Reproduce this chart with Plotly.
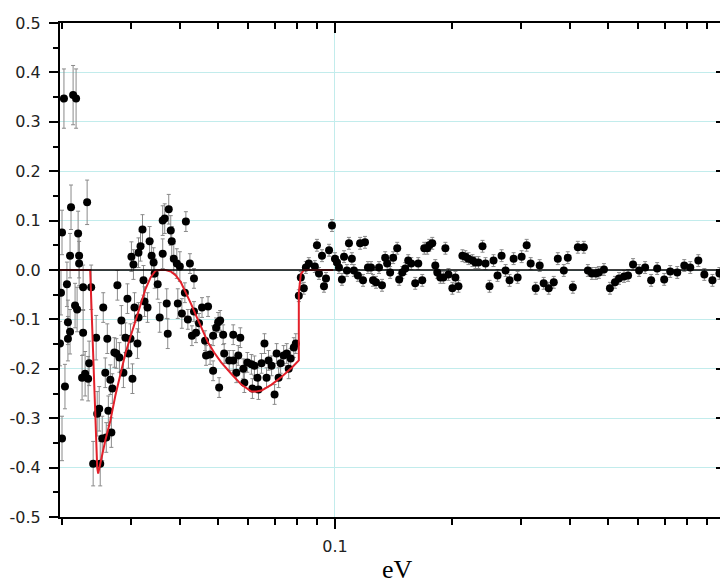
import plotly.graph_objects as go

# ---- measured points (energy in eV, value, error) ----
ev = [
0.01972, 0.01984, 0.01996, 0.01996, 0.02019, 0.02031, 0.02055, 0.02067, 0.02067, 0.02093,
0.02093, 0.02105, 0.02131, 0.02156, 0.02169, 0.02182, 0.02195, 0.02208, 0.02208, 0.02247,
0.02261, 0.02261, 0.02288, 0.02315, 0.02329, 0.02343, 0.02371, 0.02399, 0.02442, 0.02457,
0.02486, 0.02501, 0.02531, 0.02546, 0.02592, 0.02577, 0.02608, 0.02624, 0.02655, 0.02671,
0.02687, 0.02719, 0.02751, 0.02768, 0.02801, 0.02834, 0.02868, 0.02902, 0.02937, 0.02954,
0.02990, 0.03007, 0.03025, 0.03043, 0.03062, 0.03116, 0.03135, 0.03135, 0.03173, 0.03210,
0.03229, 0.03249, 0.03307, 0.03348, 0.03388, 0.03428, 0.03449, 0.03511, 0.03553, 0.03617,
0.03617, 0.03660, 0.03704, 0.03726, 0.03748, 0.03793, 0.03815, 0.03861, 0.03931, 0.03954,
0.04002, 0.04050, 0.04147, 0.04122, 0.04196, 0.04247, 0.04298, 0.04350, 0.04350, 0.04402,
0.04481, 0.04562, 0.04644, 0.04672, 0.04727, 0.04784, 0.04870, 0.04870, 0.04958, 0.05017,
0.05047, 0.05077, 0.05168, 0.05199, 0.05356, 0.05485, 0.05485, 0.05585, 0.05651, 0.05719,
0.05821, 0.05856, 0.05962, 0.06106, 0.06142, 0.06216, 0.06328, 0.06366, 0.06481, 0.06596,
0.06677, 0.06756, 0.06878, 0.07001, 0.07086, 0.07170, 0.07255, 0.07386, 0.07521, 0.07610,
0.07700, 0.07843, 0.07935, 0.08078, 0.08174, 0.08320, 0.08420, 0.08571, 0.08880, 0.08991,
0.09098, 0.09262, 0.09372, 0.09484, 0.09657, 0.09825, 0.1000, 0.1012, 0.1024, 0.1042,
0.1055, 0.1073, 0.1086, 0.1105, 0.1118, 0.1145, 0.1160, 0.1180, 0.1194, 0.1215,
0.1237, 0.1252, 0.1274, 0.1297, 0.1320, 0.1345, 0.1361, 0.1385, 0.1410, 0.1444,
0.1461, 0.1488, 0.1514, 0.1541, 0.1569, 0.1606, 0.1635, 0.1674, 0.1694, 0.1724,
0.1745, 0.1776, 0.1808, 0.1830, 0.1863, 0.1896, 0.1919, 0.1954, 0.2000, 0.2036,
0.2073, 0.2122, 0.2160, 0.2199, 0.2252, 0.2292, 0.2333, 0.2389, 0.2432, 0.2490,
0.2550, 0.2611, 0.2674, 0.2738, 0.2803, 0.2871, 0.2940, 0.3010, 0.3101, 0.3175,
0.3271, 0.3349, 0.3429, 0.3533, 0.3639, 0.3727, 0.3861, 0.3953, 0.4073, 0.4195,
0.4346, 0.4451, 0.4558, 0.4667, 0.4750, 0.4894, 0.5070, 0.5223, 0.5349, 0.5510,
0.5642, 0.5811, 0.6022, 0.6240, 0.6466, 0.6700, 0.6984, 0.7236, 0.7543, 0.7863,
0.8147, 0.8543, 0.8852, 0.9284, 0.9676, 0.9990]

values = [
-0.149, -0.046, 0.076, -0.341, 0.347, -0.236, -0.029, -0.106, -0.139, 0.029,
-0.125, 0.127, 0.354, -0.072, 0.347, -0.080, 0.074, 0.029, 0.013, -0.218,
-0.035, -0.127, -0.210, 0.137, -0.220, -0.189, -0.035, -0.392, -0.137, -0.291,
-0.281, -0.392, -0.341, -0.076, -0.339, -0.208, -0.139, -0.285, -0.222, -0.329,
-0.240, -0.167, -0.169, -0.031, -0.177, -0.102, -0.208, -0.137, -0.058, -0.169,
-0.139, 0.027, -0.220, 0.011, -0.076, -0.149, 0.035, -0.096, 0.048, 0.082,
-0.021, -0.064, -0.076, 0.058, 0.029, 0.015, -0.007, -0.029, -0.096, 0.033,
0.100, 0.104, -0.068, -0.129, 0.123, 0.080, 0.058, 0.023, 0.013, -0.068,
0.007, -0.088, 0.098, -0.046, -0.100, 0.013, -0.133, -0.017, -0.084, -0.127,
-0.108, -0.076, -0.143, -0.173, -0.074, -0.171, -0.133, -0.204, -0.117, -0.106,
-0.238, -0.102, -0.131, -0.169, -0.183, -0.183, -0.131, -0.208, -0.173, -0.137,
-0.200, -0.228, -0.187, -0.191, -0.240, -0.194, -0.218, -0.242, -0.189, -0.149,
-0.218, -0.183, -0.194, -0.252, -0.169, -0.218, -0.189, -0.173, -0.169, -0.200,
-0.179, -0.157, -0.149, -0.052, -0.015, -0.037, 0.005, 0.013, 0.007, 0.050,
-0.007, 0.029, -0.033, -0.017, 0.040, 0.090, 0.023, 0.015, 0.005, -0.019,
0.027, -0.001, 0.054, 0.023, -0.001, -0.011, 0.054, -0.021, 0.056, 0.005,
0.005, -0.021, -0.025, 0.005, -0.031, 0.025, 0.013, -0.005, 0.025, 0.044,
-0.019, -0.005, 0.003, 0.019, 0.013, -0.027, 0.013, -0.021, 0.044, 0.044,
0.050, 0.054, 0.009, -0.005, -0.015, -0.015, 0.044, -0.009, -0.037, -0.015,
-0.033, 0.029, 0.027, 0.023, 0.019, 0.015, 0.015, 0.048, 0.013, -0.033,
0.019, -0.011, 0.029, -0.001, -0.021, 0.023, -0.015, 0.027, 0.050, 0.013,
-0.037, 0.009, -0.027, -0.037, -0.025, 0.023, -0.001, 0.025, -0.035, 0.046,
0.046, -0.001, -0.007, -0.007, -0.005, 0.001, -0.037, -0.025, -0.017, -0.013,
-0.011, 0.011, -0.001, 0.005, -0.021, 0.003, -0.019, -0.003, -0.005, 0.009,
0.005, 0.019, -0.009, -0.021, -0.007, -0.005]

errors = [
0.045, 0.045, 0.045, 0.045, 0.060, 0.045, 0.045, 0.045, 0.045, 0.045,
0.045, 0.045, 0.060, 0.045, 0.060, 0.045, 0.045, 0.045, 0.045, 0.045,
0.045, 0.045, 0.045, 0.045, 0.045, 0.045, 0.045, 0.045, 0.045, 0.045,
0.045, 0.045, 0.045, 0.030, 0.030, 0.030, 0.030, 0.030, 0.030, 0.030,
0.030, 0.030, 0.030, 0.030, 0.030, 0.030, 0.030, 0.030, 0.030, 0.030,
0.030, 0.030, 0.030, 0.030, 0.030, 0.030, 0.030, 0.030, 0.030, 0.030,
0.030, 0.030, 0.030, 0.030, 0.030, 0.030, 0.030, 0.030, 0.030, 0.030,
0.030, 0.030, 0.030, 0.030, 0.030, 0.030, 0.030, 0.030, 0.030, 0.030,
0.030, 0.030, 0.020, 0.020, 0.020, 0.020, 0.020, 0.020, 0.020, 0.020,
0.020, 0.020, 0.020, 0.020, 0.020, 0.020, 0.020, 0.020, 0.020, 0.020,
0.020, 0.020, 0.020, 0.020, 0.020, 0.020, 0.020, 0.020, 0.020, 0.020,
0.020, 0.020, 0.020, 0.020, 0.020, 0.020, 0.020, 0.020, 0.020, 0.020,
0.020, 0.020, 0.020, 0.020, 0.020, 0.020, 0.020, 0.020, 0.020, 0.020,
0.020, 0.020, 0.020, 0.012, 0.012, 0.012, 0.012, 0.012, 0.012, 0.012,
0.012, 0.012, 0.012, 0.012, 0.012, 0.012, 0.012, 0.012, 0.012, 0.012,
0.012, 0.012, 0.012, 0.012, 0.012, 0.012, 0.012, 0.012, 0.012, 0.012,
0.012, 0.012, 0.012, 0.012, 0.012, 0.012, 0.012, 0.012, 0.012, 0.012,
0.012, 0.012, 0.012, 0.012, 0.012, 0.012, 0.012, 0.012, 0.012, 0.012,
0.012, 0.012, 0.012, 0.012, 0.012, 0.012, 0.012, 0.012, 0.012, 0.012,
0.012, 0.012, 0.012, 0.012, 0.012, 0.012, 0.012, 0.012, 0.012, 0.012,
0.012, 0.012, 0.012, 0.012, 0.012, 0.012, 0.012, 0.012, 0.012, 0.012,
0.012, 0.012, 0.012, 0.012, 0.012, 0.012, 0.012, 0.012, 0.012, 0.012,
0.012, 0.012, 0.012, 0.012, 0.012, 0.012, 0.012, 0.012, 0.012, 0.012,
0.012, 0.012, 0.012, 0.012, 0.012, 0.012, 0.012, 0.012, 0.012, 0.012,
0.012, 0.012, 0.012, 0.012, 0.012, 0.012]

# ---- model curve (red) ----
model_ev = [0.01972, 0.02357, 0.02457, 0.02471, 0.02577, 0.02655, 0.02735, 0.02817,
            0.02902, 0.02990, 0.03080, 0.03173, 0.03269, 0.03368, 0.03469, 0.03574,
            0.03682, 0.03793, 0.03908, 0.04026, 0.04147, 0.04273, 0.04402, 0.04535,
            0.04727, 0.04900, 0.05108, 0.05421, 0.05754, 0.06106, 0.06291, 0.06481,
            0.06878, 0.07300, 0.07748, 0.08078, 0.08078, 0.08174, 0.08320, 0.09884]
model_val = [0.0, 0.0, -0.400, -0.412, -0.345, -0.305, -0.254, -0.212,
             -0.169, -0.135, -0.102, -0.068, -0.038, -0.015, -0.001, 0.0,
             0.0, -0.003, -0.011, -0.025, -0.046, -0.068, -0.092, -0.114,
             -0.147, -0.167, -0.187, -0.210, -0.232, -0.246, -0.246, -0.244,
             -0.232, -0.216, -0.198, -0.183, -0.046, -0.009, 0.0, 0.0]

# ---- axis ticks ----
y_ticks = [0.5, 0.4, 0.3, 0.2, 0.1, 0.0, -0.1, -0.2, -0.3, -0.4, -0.5]
y_tick_labels = ["0.5", "0.4", "0.3", "0.2", "0.1", "0.0", "-0.1", "-0.2", "-0.3", "-0.4", "-0.5"]
y_minor = [0.45, 0.35, 0.25, 0.15, 0.05, -0.05, -0.15, -0.25, -0.35, -0.45]
x_ticks = [0.1, 1]
x_tick_labels = ["0.1", "1"]
x_minor = [0.02, 0.03, 0.04, 0.05, 0.06, 0.07, 0.08, 0.09,
           0.2, 0.3, 0.4, 0.5, 0.6, 0.7, 0.8, 0.9]

X_RANGE = [-1.705, 0.0]
Y_RANGE = [-0.5, 0.5]
GRID = "#c2ecec"
FONT = "DejaVu Sans, Arial, sans-serif"
TICKFONT = dict(family=FONT, size=16, color="#222222")

fig = go.Figure()

fig.add_trace(go.Scatter(
    x=ev, y=values, mode="markers",
    marker=dict(color="black", size=8, line=dict(width=0)),
    error_y=dict(type="data", array=errors, visible=True,
                 color="#8a8a8a", thickness=1, width=2),
    showlegend=False, hoverinfo="skip"))

fig.add_trace(go.Scatter(
    x=model_ev, y=model_val, mode="lines",
    line=dict(color="#e3202a", width=2),
    showlegend=False, hoverinfo="skip"))

# zero line
fig.add_trace(go.Scatter(
    x=[10 ** X_RANGE[0], 10 ** X_RANGE[1]], y=[0, 0], mode="lines",
    line=dict(color="black", width=1.5), showlegend=False, hoverinfo="skip"))

# the page body adds an 8 px margin, so the figure is 8 px smaller than the window
fig.update_layout(
    width=720, height=575,
    margin=dict(l=52, r=3, t=15, b=66, autoexpand=False),
    paper_bgcolor="white", plot_bgcolor="white",
    font=dict(family=FONT, size=16, color="#222222"),
    xaxis=dict(
        type="log", range=X_RANGE, automargin=False,
        tickmode="array", tickvals=x_ticks, ticktext=x_tick_labels,
        ticks="outside", ticklen=10, tickwidth=1.5, tickcolor="black",
        ticklabelstandoff=4,
        showgrid=True, gridcolor=GRID, gridwidth=1,
        showline=True, linecolor="black", linewidth=2,
        zeroline=False,
        minor=dict(tickmode="array", tickvals=x_minor, ticks="outside",
                   ticklen=6, tickwidth=1.5, tickcolor="black", showgrid=False),
        tickfont=TICKFONT,
    ),
    yaxis=dict(
        range=Y_RANGE, automargin=False,
        tickmode="array", tickvals=y_ticks, ticktext=y_tick_labels,
        ticks="outside", ticklen=9, tickwidth=1.5, tickcolor="black",
        ticklabelstandoff=5,
        showgrid=True, gridcolor=GRID, gridwidth=1,
        showline=True, linecolor="black", linewidth=2,
        zeroline=False,
        minor=dict(tickmode="array", tickvals=y_minor, ticks="outside",
                   ticklen=5, tickwidth=1.5, tickcolor="black", showgrid=False),
        tickfont=TICKFONT,
    ),
    xaxis2=dict(
        type="log", range=X_RANGE, overlaying="x", side="top", automargin=False,
        tickmode="array", tickvals=x_ticks, showticklabels=False,
        ticks="inside", ticklen=10, tickwidth=1.5, tickcolor="black",
        showgrid=False, showline=True, linecolor="black", linewidth=2,
        zeroline=False,
        minor=dict(tickmode="array", tickvals=x_minor, ticks="inside",
                   ticklen=6, tickwidth=1.5, tickcolor="black", showgrid=False),
    ),
    yaxis2=dict(
        range=Y_RANGE, overlaying="y", side="right", automargin=False,
        tickmode="array", tickvals=y_ticks, showticklabels=False,
        ticks="inside", ticklen=9, tickwidth=1.5, tickcolor="black",
        showgrid=False, showline=True, linecolor="black", linewidth=2,
        zeroline=False,
        minor=dict(tickmode="array", tickvals=y_minor, ticks="inside",
                   ticklen=5, tickwidth=1.5, tickcolor="black", showgrid=False),
    ),
)

# invisible trace to activate the mirrored axes
fig.add_trace(go.Scatter(x=[0.5], y=[0], xaxis="x2", yaxis="y2", mode="markers",
                         marker=dict(opacity=0), showlegend=False, hoverinfo="skip"))

fig.add_annotation(text="eV", xref="paper", yref="paper", x=0.508, y=-0.107,
                   xanchor="center", yanchor="middle", showarrow=False,
                   font=dict(family="Liberation Serif, Times New Roman, serif",
                             size=26, color="black"))

fig.write_html("out.html")
